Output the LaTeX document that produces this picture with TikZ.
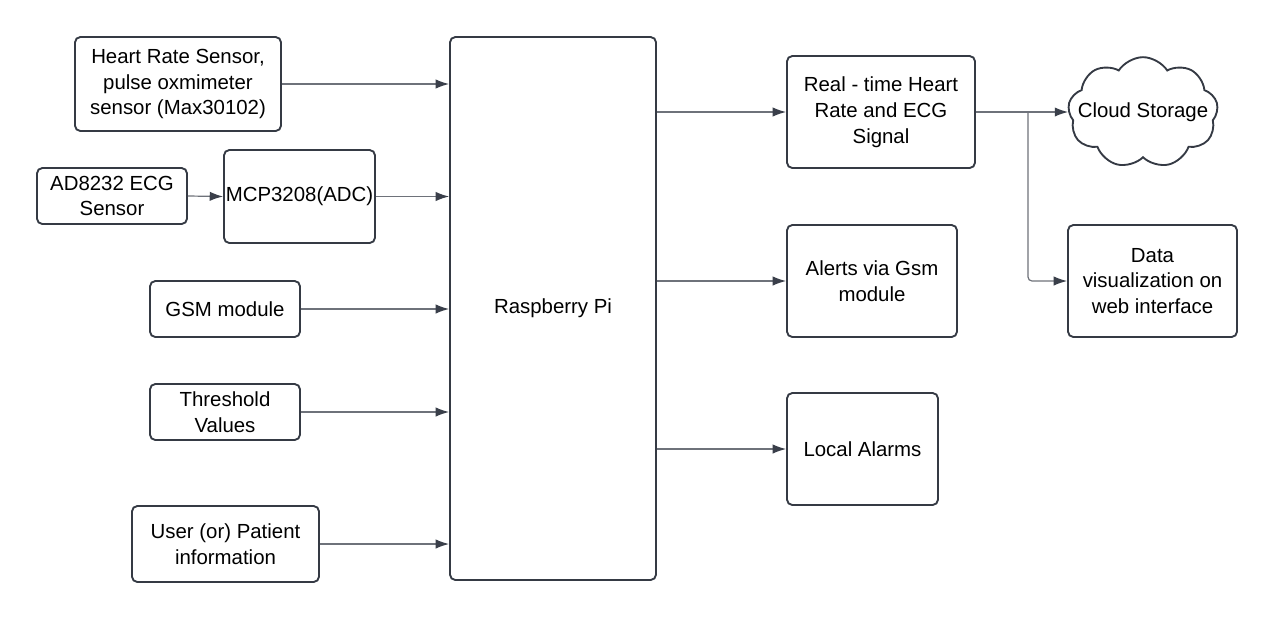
\documentclass[tikz,border=0pt]{standalone}
\usepackage{fontspec}
\setmainfont{Liberation Sans}
\usetikzlibrary{shapes.symbols,arrows.meta}
\definecolor{bord}{HTML}{353A44}
\definecolor{conn}{HTML}{6E727A}
\definecolor{tip}{HTML}{3A3F4A}
\begin{document}
\begin{tikzpicture}[x=0.75pt,y=-0.75pt,
  box/.style={draw=bord,line width=1.4pt,rounded corners=4pt,align=center,inner sep=1pt,
    font=\fontsize{15.3}{19.3}\selectfont,text=black},
  conn/.style={draw=conn,line width=0.9pt,-{Latex[length=10pt,width=7pt,color=tip]}}]
\useasboundingbox (0,0) rectangle (1275,619);
\node[box,minimum width=154.5pt,minimum height=70.5pt] (hr) at (178,84) {Heart Rate Sensor,\\pulse oxmimeter\\sensor (Max30102)};
\node[box,minimum width=112.5pt,minimum height=42pt] (ad) at (112,196) {AD8232 ECG\\Sensor};
\node[box,minimum width=113.25pt,minimum height=69.75pt,inner sep=0pt] (mcp) at (299.5,196.5) {MCP3208(ADC)};
\node[box,minimum width=154.5pt,minimum height=407.25pt] (pi) at (553,308.5) {Raspberry Pi};
\node[box,minimum width=112.5pt,minimum height=42pt] (gsm) at (225,309) {GSM module};
\node[box,minimum width=112.5pt,minimum height=42pt] (thr) at (225,412) {Threshold\\Values};
\node[box,minimum width=140.25pt,minimum height=57pt] (usr) at (225.5,544) {User (or) Patient\\information};
\node[box,minimum width=141pt,minimum height=84pt] (rt) at (881,112) {Real - time Heart\\Rate and ECG\\Signal};
\node[box,minimum width=127.5pt,minimum height=84pt] (al) at (872,281) {Alerts via Gsm\\module};
\node[box,minimum width=113.25pt,minimum height=84pt] (la) at (862.5,449) {Local Alarms};
\node[box,shape=cloud,cloud puffs=9,cloud puff arc=115,aspect=1.35,rounded corners=0pt,
  minimum width=112.5pt,minimum height=83pt,inner sep=0pt] (cloud) at (1143,112.5) {};
\node[font=\fontsize{15.3}{19.3}\selectfont,inner sep=0pt] (cloudtext) at (cloud.center) {Cloud Storage};
\node[box,minimum width=126.75pt,minimum height=84pt] (data) at (1152.5,281) {Data\\visualization on\\web interface};
\coordinate (br) at (1028,112);
\draw[conn] (hr.east) -- (hr.east -| pi.west);
\draw[conn] (ad.east) -- (mcp.west);
\draw[conn] (mcp.east) -- (mcp.east -| pi.west);
\draw[conn] (gsm.east) -- (gsm.east -| pi.west);
\draw[conn] (thr.east) -- (thr.east -| pi.west);
\draw[conn] (usr.east) -- (usr.east -| pi.west);
\draw[conn] (pi.east |- rt.west) -- (rt.west);
\draw[conn] (pi.east |- al.west) -- (al.west);
\draw[conn] (pi.east |- la.west) -- (la.west);
\draw[conn] (rt.east) -- (rt.east -| cloud.west);
\draw[conn,rounded corners=3pt] (br) |- (data.west);
\end{tikzpicture}
\end{document}
